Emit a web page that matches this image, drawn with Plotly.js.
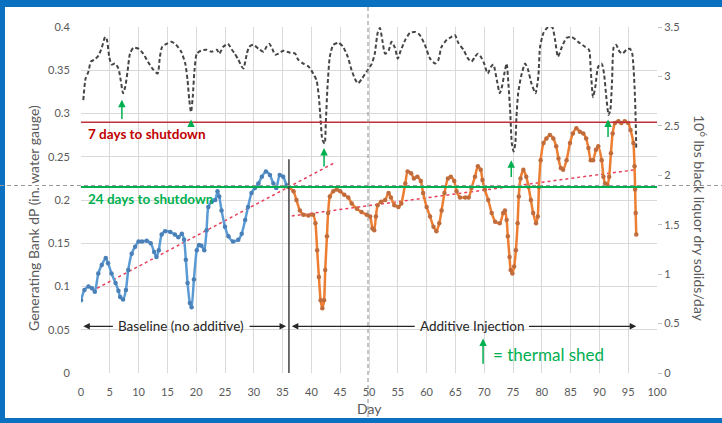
<!DOCTYPE html>
<html>
<head>
<meta charset="utf-8">
<script src="https://cdn.plot.ly/plotly-3.0.1.min.js"></script>
<style>html,body{margin:0;padding:0;background:#fff;}#chart{width:722px;height:423px;}</style>
</head>
<body>
<div id="chart"></div>
<script>
// ---- Data ----
const baselineDays = [0,0.6,1.3,1.9,2.4,3.0,3.6,4.3,4.7,5.3,6.0,6.5,6.8,7.3,7.8,8.2,8.8,9.4,10.0,10.6,11.4,12.1,12.7,13.1,13.5,14.0,14.6,15.5,16.3,16.9,17.5,17.9,18.2,18.5,18.9,19.2,19.6,20.1,20.5,20.9,21.4,21.8,22.1,22.7,23.3,23.7,24.0,24.4,25.0,25.6,26.4,27.3,27.9,28.5,29.0,29.6,30.2,30.8,31.4,32.1,32.8,33.4,33.9,34.5,35.1,35.7,36.0];
const baselineDP = [0.084,0.096,0.100,0.098,0.094,0.115,0.125,0.133,0.127,0.115,0.104,0.095,0.088,0.085,0.096,0.119,0.138,0.146,0.152,0.152,0.153,0.150,0.140,0.134,0.142,0.160,0.164,0.163,0.160,0.157,0.161,0.154,0.131,0.104,0.081,0.076,0.108,0.142,0.148,0.147,0.142,0.165,0.192,0.198,0.200,0.210,0.204,0.188,0.169,0.158,0.152,0.154,0.161,0.177,0.192,0.208,0.214,0.219,0.227,0.233,0.229,0.219,0.214,0.229,0.227,0.217,0.215];

const additiveDays = [36.0,36.9,37.4,38.0,38.6,39.5,40.3,40.7,41.0,41.3,41.6,41.9,42.2,42.4,42.7,42.9,43.2,43.8,44.4,45.0,45.7,46.4,47.0,47.9,48.7,49.6,50.2,50.6,50.9,51.2,51.5,52.1,52.8,53.4,53.8,54.4,55.1,55.6,56.3,56.7,57.3,57.8,58.4,59.0,59.4,60.0,60.6,61.2,61.7,62.2,62.6,63.1,63.7,64.2,64.8,65.2,65.8,66.7,67.3,67.8,68.4,68.9,69.4,69.7,70.1,70.7,71.3,71.9,72.7,73.3,73.6,73.9,74.1,74.4,74.6,74.9,75.2,75.5,75.8,76.0,76.3,76.8,77.3,77.7,78.1,78.5,79.0,79.3,79.5,79.8,80.3,80.8,81.4,82.0,82.5,82.9,83.3,83.7,84.3,84.9,85.4,86.0,86.6,87.2,87.7,88.1,88.5,88.9,89.4,89.8,90.4,90.7,91.0,91.4,91.7,92.0,92.3,92.7,93.3,93.8,94.4,95.0,95.4,95.9,96.1,96.2,96.3,96.4];
const additiveDP = [0.215,0.210,0.200,0.188,0.183,0.182,0.183,0.173,0.142,0.111,0.084,0.075,0.084,0.119,0.158,0.185,0.204,0.210,0.212,0.210,0.206,0.203,0.196,0.190,0.186,0.183,0.181,0.167,0.165,0.181,0.194,0.198,0.200,0.208,0.203,0.194,0.192,0.196,0.219,0.233,0.231,0.225,0.227,0.222,0.208,0.192,0.181,0.169,0.164,0.173,0.188,0.208,0.225,0.227,0.222,0.210,0.203,0.203,0.203,0.214,0.227,0.239,0.235,0.223,0.212,0.200,0.185,0.175,0.173,0.185,0.188,0.177,0.158,0.134,0.119,0.115,0.123,0.142,0.173,0.204,0.225,0.235,0.227,0.215,0.200,0.185,0.173,0.181,0.215,0.246,0.266,0.271,0.275,0.271,0.262,0.248,0.237,0.235,0.246,0.266,0.277,0.283,0.279,0.277,0.271,0.260,0.246,0.246,0.258,0.262,0.246,0.227,0.219,0.217,0.227,0.254,0.277,0.289,0.291,0.289,0.291,0.289,0.281,0.266,0.239,0.212,0.185,0.160];

const solidsDays = [0.4,0.8,1.3,1.7,2.3,2.9,3.5,4.2,4.5,4.9,5.3,5.9,6.5,6.9,7.3,7.7,8.1,8.5,9.1,10.0,10.8,11.6,12.4,13.3,13.7,14.1,14.9,15.7,16.5,17.4,18.1,18.5,18.8,19.1,19.4,19.7,20.1,20.8,21.8,22.7,23.6,24.0,24.7,25.5,26.2,26.7,27.3,27.9,28.2,28.8,29.2,29.9,30.8,31.7,32.2,32.7,33.2,33.7,34.3,35.1,36.3,37.2,37.7,38.6,39.5,40.3,40.9,41.3,41.6,41.9,42.3,42.5,42.8,43.2,43.8,44.7,45.5,46.3,47.0,47.7,48.1,48.8,49.6,50.5,51.0,51.5,51.9,52.3,52.8,53.4,53.9,54.5,55.0,55.5,56.3,57.1,58.0,58.8,59.7,60.6,61.5,62.0,62.6,63.5,64.3,64.9,65.5,66.4,67.2,67.8,68.4,68.9,69.4,70.0,70.6,71.2,71.6,72.2,72.7,73.1,73.5,73.9,74.2,74.5,74.8,75.1,75.4,75.6,75.9,76.4,77.1,77.6,78.2,78.9,79.4,79.7,80.3,81.1,81.8,82.3,82.8,83.5,84.3,85.2,86.3,87.5,88.2,88.5,88.9,89.3,89.8,90.4,90.8,91.2,91.6,91.9,92.2,92.5,92.9,93.5,94.0,94.7,95.3,95.7,96.1,96.3,96.4];
const solidsMlb = [2.76,2.98,3.05,3.15,3.17,3.20,3.27,3.40,3.37,3.20,3.12,3.13,3.08,2.96,2.83,2.90,3.06,3.23,3.29,3.28,3.23,3.15,3.08,3.03,3.20,3.30,3.33,3.35,3.32,3.25,3.13,2.96,2.76,2.64,2.79,3.06,3.23,3.26,3.27,3.25,3.27,3.23,3.30,3.33,3.27,3.23,3.17,3.10,3.08,3.23,3.30,3.32,3.28,3.25,3.30,3.33,3.28,3.22,3.23,3.26,3.24,3.23,3.17,3.13,3.10,3.03,2.96,2.79,2.56,2.36,2.32,2.53,2.90,3.20,3.32,3.34,3.30,3.20,3.06,2.96,2.93,2.98,3.05,3.13,3.23,3.44,3.49,3.37,3.23,3.26,3.35,3.29,3.18,3.26,3.37,3.44,3.45,3.42,3.32,3.18,3.13,3.16,3.30,3.37,3.40,3.42,3.34,3.27,3.18,3.15,3.20,3.23,3.20,3.13,3.03,3.10,3.12,2.96,2.83,2.90,3.03,3.13,2.93,2.66,2.32,2.24,2.32,2.59,2.83,3.00,3.13,3.07,2.93,2.83,3.00,3.30,3.44,3.50,3.50,3.37,3.20,3.30,3.39,3.40,3.35,3.30,3.27,3.06,2.79,2.90,3.10,3.13,3.03,2.79,2.61,2.66,2.96,3.30,3.32,3.25,3.23,3.27,3.28,3.23,2.90,2.56,2.26];

// linear trend lines (endpoints)
const baselineTrendDays = [2.8, 44];
const baselineTrendDP = [0.098, 0.243];
const additiveTrendDays = [36.6, 96.2];
const additiveTrendDP = [0.1815, 0.235];

// shutdown thresholds
const sevenDayLevel = 0.29;
const twentyFourDayLevel = 0.215;

// thermal shed arrows: day, tail value, head value (left axis units)
const shedDays = [7.1, 19.1, 42.2, 74.7, 91.5];
const shedTail = [0.292, 0.284, 0.237, 0.225, 0.271];
const shedHead = [0.316, 0.293, 0.260, 0.246, 0.293];

// ---- Helpers for paper coords (pixel layout) ----
const L = 81, R = 657, T = 27, B = 373;
const px = v => (v - L) / (R - L);
const py = v => (B - v) / (B - T);

const FONT = 'Lato, "Liberation Sans", sans-serif';
const GRAY = '#595959';

const traces = [
  {x: solidsDays, y: solidsMlb, yaxis: 'y2', type: 'scatter', mode: 'lines',
   line: {color: '#454545', width: 2, dash: '4px,2.5px', shape: 'spline', smoothing: 0.6},
   hoverinfo: 'skip', showlegend: false},
  {x: baselineTrendDays, y: baselineTrendDP, type: 'scatter', mode: 'lines',
   line: {color: '#E8405A', width: 1.5, dash: 'dot'}, showlegend: false},
  {x: additiveTrendDays, y: additiveTrendDP, type: 'scatter', mode: 'lines',
   line: {color: '#E8405A', width: 1.5, dash: 'dot'}, showlegend: false},
  {x: baselineDays, y: baselineDP, type: 'scatter', mode: 'lines+markers',
   line: {color: '#5B9BD5', width: 2.5, shape: 'spline', smoothing: 0.6},
   marker: {color: '#4A80B8', size: 4.5}, showlegend: false},
  {x: additiveDays, y: additiveDP, type: 'scatter', mode: 'lines+markers',
   line: {color: '#ED7D31', width: 2.5, shape: 'spline', smoothing: 0.6},
   marker: {color: '#C06C3C', size: 4.5}, showlegend: false}
];

const shapes = [
  // blue frame
  {type: 'rect', xref: 'paper', yref: 'paper', x0: px(0), x1: px(722), y0: py(0), y1: py(7), fillcolor: '#0A70C0', line: {width: 0}, layer: 'above'},
  {type: 'rect', xref: 'paper', yref: 'paper', x0: px(0), x1: px(5), y0: py(0), y1: py(423), fillcolor: '#0A70C0', line: {width: 0}, layer: 'above'},
  {type: 'rect', xref: 'paper', yref: 'paper', x0: px(0), x1: px(722), y0: py(418), y1: py(423), fillcolor: '#0A70C0', line: {width: 0}, layer: 'above'},
  // threshold lines
  {type: 'line', xref: 'x', yref: 'y', x0: 0, x1: 100, y0: sevenDayLevel, y1: sevenDayLevel, line: {color: '#C0303A', width: 1.5}},
  {type: 'line', xref: 'x', yref: 'y', x0: 0, x1: 100, y0: twentyFourDayLevel, y1: twentyFourDayLevel, line: {color: '#00B050', width: 2}},
  // phase separator
  {type: 'line', xref: 'x', yref: 'y', x0: 36.1, x1: 36.1, y0: 0, y1: 0.247, line: {color: '#404040', width: 1.5}, layer: 'above'},
  // crosshair dashed lines
  {type: 'line', xref: 'paper', yref: 'paper', x0: px(0), x1: px(722), y0: py(185.5), y1: py(185.5), line: {color: '#9a9a9a', width: 1, dash: '4px,3px'}, layer: 'above'},
  {type: 'line', xref: 'paper', yref: 'paper', x0: px(368), x1: px(368), y0: py(7), y1: py(418), line: {color: '#8a8a8a', width: 1, dash: '4px,3px'}, layer: 'above'}
];

const annotations = [
  {xref: 'paper', yref: 'paper', x: px(86), y: py(134), xanchor: 'left', yanchor: 'middle', showarrow: false,
   text: '<b>7 days to shutdown</b>', font: {family: FONT, size: 13.5, color: '#C00000'}},
  {xref: 'paper', yref: 'paper', x: px(86), y: py(199), xanchor: 'left', yanchor: 'middle', showarrow: false,
   text: '<b>24 days to shutdown</b>', font: {family: FONT, size: 13.5, color: '#00B050'}},
  {xref: 'paper', yref: 'paper', x: px(181), y: py(326), xanchor: 'center', yanchor: 'middle', showarrow: false,
   text: 'Baseline (no additive)', font: {family: FONT, size: 13.5, color: '#262626'}},
  {xref: 'paper', yref: 'paper', x: px(472), y: py(326), xanchor: 'center', yanchor: 'middle', showarrow: false,
   text: 'Additive Injection', font: {family: FONT, size: 13.5, color: '#262626'}},
  {xref: 'paper', yref: 'paper', x: px(491), y: py(354), xanchor: 'left', yanchor: 'middle', showarrow: false,
   text: '= thermal shed', font: {family: FONT, size: 17, color: '#00B050'}},
  // axis titles
  {xref: 'paper', yref: 'paper', x: px(33), y: py(218), xanchor: 'center', yanchor: 'middle', showarrow: false, textangle: -90,
   text: 'Generating Bank dP (in. water gauge)', font: {family: FONT, size: 14, color: GRAY}},
  {xref: 'paper', yref: 'paper', x: px(701), y: py(218), xanchor: 'center', yanchor: 'middle', showarrow: false, textangle: 90,
   text: '10<sup>6</sup> lbs black liquor dry solids/day', font: {family: FONT, size: 14, color: GRAY}},
  {xref: 'paper', yref: 'paper', x: px(369), y: py(408), xanchor: 'center', yanchor: 'middle', showarrow: false,
   text: 'Day', font: {family: FONT, size: 14, color: GRAY}}
];

// phase arrows
const arrowY = 0.054;
function hArrow(xHead, xTail) {
  annotations.push({x: xHead, y: arrowY, ax: xTail, ay: arrowY, xref: 'x', yref: 'y', axref: 'x', ayref: 'y',
    text: '', showarrow: true, arrowhead: 2, arrowsize: 1, arrowwidth: 1.3, arrowcolor: '#262626', standoff: 0, startstandoff: 0});
}
hArrow(0.4, 5.8);
hArrow(35.6, 29.0);
hArrow(36.6, 58.2);
hArrow(96.4, 77.5);

// thermal shed arrows
shedDays.forEach((d, i) => {
  annotations.push({x: d, y: shedHead[i], ax: d, ay: shedTail[i], xref: 'x', yref: 'y', axref: 'x', ayref: 'y',
    text: '', showarrow: true, arrowhead: 2, arrowsize: 1, arrowwidth: 1.5, arrowcolor: '#00B050', standoff: 0});
});
// legend arrow
annotations.push({x: 69.8, y: 0.040, ax: 69.8, ay: 0.009, xref: 'x', yref: 'y', axref: 'x', ayref: 'y',
  text: '', showarrow: true, arrowhead: 2, arrowsize: 1, arrowwidth: 1.5, arrowcolor: '#00B050', standoff: 0});

const tickFont = {family: FONT, size: 11, color: GRAY};
const layout = {
  width: 722, height: 423,
  margin: {l: L, r: 722 - R, t: T, b: 423 - B, pad: 0},
  paper_bgcolor: '#ffffff', plot_bgcolor: '#ffffff',
  showlegend: false,
  font: {family: FONT},
  xaxis: {range: [0, 100], tick0: 0, dtick: 5, showgrid: true, gridcolor: '#D9D9D9', gridwidth: 1,
    zeroline: false, showline: false, ticks: 'outside', ticklen: 9, tickcolor: 'rgba(0,0,0,0)', tickfont: tickFont, fixedrange: true},
  yaxis: {range: [0, 0.4], tick0: 0, dtick: 0.05, showgrid: true, gridcolor: '#D9D9D9', gridwidth: 1,
    zeroline: false, showline: false, ticks: 'outside', ticklen: 8, tickcolor: 'rgba(0,0,0,0)', tickfont: tickFont, fixedrange: true},
  yaxis2: {range: [0, 3.5], tick0: 0, dtick: 0.5, overlaying: 'y', side: 'right', showgrid: false,
    zeroline: false, showline: false, ticks: 'outside', ticklen: 4, tickcolor: '#BFBFBF', tickfont: tickFont, fixedrange: true},
  shapes: shapes,
  annotations: annotations
};

Plotly.newPlot('chart', traces, layout, {displayModeBar: false, staticPlot: true});
</script>
</body>
</html>
